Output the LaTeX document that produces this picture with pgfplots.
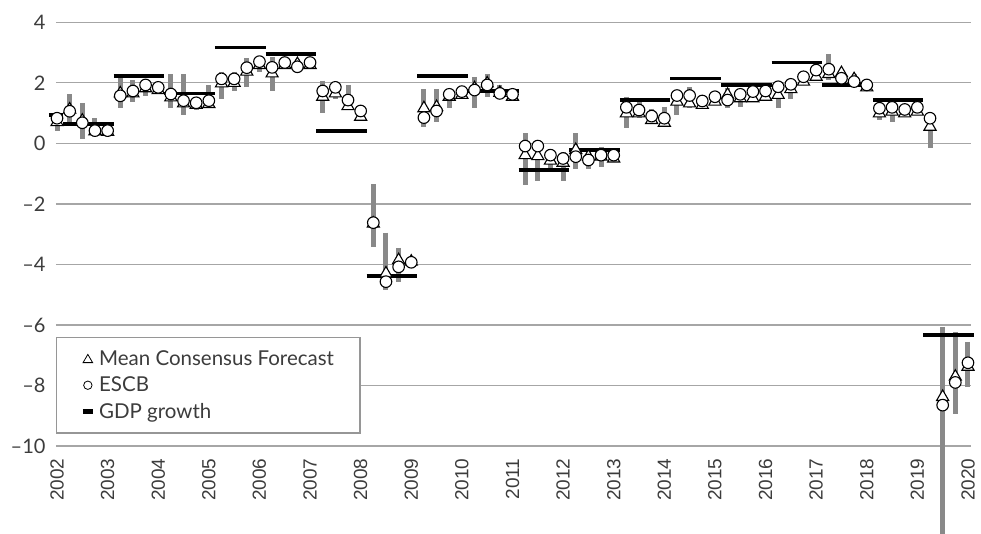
\documentclass[border=0pt]{standalone}
\usepackage{pgfplots}
\pgfplotsset{compat=1.18}
\usepackage{pgfplotstable}
\usepackage{fontspec}
\setmainfont{Lato}
\newfontfamily\xfont{Liberation Sans}
\definecolor{barGrey}{RGB}{137,137,137}
\definecolor{gridGrey}{RGB}{166,166,166}
\definecolor{legGrey}{RGB}{150,150,150}
\definecolor{txt}{RGB}{60,60,60}

\pgfplotstableread{
x tri circ lo hi
2002.00 0.70 0.83 0.42 1.00
2002.25 1.12 1.06 0.66 1.62
2002.50 0.75 0.68 0.13 1.34
2002.75 0.40 0.42 0.33 0.83
2003.00 0.38 0.42 0.35 0.50
2003.25 1.65 1.57 1.16 2.20
2003.50 1.65 1.73 1.38 2.10
2003.75 1.82 1.93 1.55 2.10
2004.00 1.76 1.85 1.70 1.95
2004.25 1.52 1.63 1.16 2.29
2004.50 1.32 1.41 0.94 2.29
2004.75 1.27 1.34 1.10 1.50
2005.00 1.30 1.41 1.16 1.93
2005.25 1.98 2.13 1.45 2.37
2005.50 2.00 2.13 1.74 2.37
2005.75 2.37 2.50 1.87 2.81
2006.00 2.59 2.70 2.37 2.86
2006.25 2.31 2.51 1.74 2.86
2006.50 2.59 2.67 2.45 2.80
2006.75 2.62 2.53 2.45 2.80
2007.00 2.59 2.67 2.50 2.75
2007.25 1.54 1.73 0.99 2.07
2007.50 1.65 1.85 1.45 2.00
2007.75 1.23 1.43 1.10 1.93
2008.00 0.88 1.07 0.80 1.20
2008.25 -2.65 -2.62 -3.42 -1.35
2008.50 -4.30 -4.57 -4.85 -2.95
2008.75 -3.86 -4.08 -4.57 -3.45
2009.00 -3.91 -3.93 -4.00 -3.80
2009.25 1.16 0.85 0.55 1.79
2009.50 1.20 1.07 0.72 1.79
2009.75 1.54 1.62 1.16 1.76
2010.00 1.60 1.71 1.50 1.80
2010.25 1.82 1.76 1.16 2.20
2010.50 1.98 1.93 1.52 2.29
2010.75 1.67 1.65 1.45 1.93
2011.00 1.54 1.62 1.45 1.75
2011.25 -0.39 -0.09 -1.38 0.33
2011.50 -0.42 -0.09 -1.23 0.05
2011.75 -0.57 -0.39 -0.80 -0.20
2012.00 -0.64 -0.50 -1.23 -0.30
2012.25 -0.22 -0.44 -0.86 0.33
2012.50 -0.44 -0.55 -0.85 -0.30
2012.75 -0.44 -0.39 -0.77 -0.11
2013.00 -0.50 -0.39 -0.55 -0.30
2013.25 0.99 1.19 0.50 1.54
2013.50 0.99 1.10 0.83 1.38
2013.75 0.77 0.90 0.65 1.15
2014.00 0.68 0.83 0.61 1.21
2014.25 1.38 1.58 0.94 1.60
2014.50 1.32 1.58 1.16 1.85
2014.75 1.27 1.40 1.20 1.50
2015.00 1.38 1.54 1.30 1.60
2015.25 1.60 1.43 1.16 1.82
2015.50 1.49 1.62 1.20 1.70
2015.75 1.49 1.71 1.40 1.75
2016.00 1.54 1.73 1.45 1.80
2016.25 1.60 1.87 1.16 1.90
2016.50 1.79 1.95 1.45 2.00
2016.75 2.04 2.20 1.95 2.25
2017.00 2.20 2.42 2.10 2.45
2017.25 2.29 2.45 2.09 2.94
2017.50 2.32 2.15 2.05 2.40
2017.75 2.12 2.04 1.95 2.30
2018.00 1.85 1.93 1.80 2.00
2018.25 0.99 1.16 0.77 1.43
2018.50 1.05 1.19 0.72 1.32
2018.75 0.99 1.12 0.95 1.20
2019.00 1.05 1.19 1.00 1.25
2019.25 0.55 0.83 -0.17 0.60
2019.50 -8.38 -8.65 -13.00 -6.06
2019.75 -7.71 -7.90 -8.93 -6.23
2020.00 -7.38 -7.25 -8.05 -6.56
}\fc

\pgfplotstableread{
x g
2001.84 0.94
2002.12 0.94
2002.12 nan
2002.12 0.64
2003.12 0.64
2003.12 nan
2003.12 2.23
2004.12 2.23
2004.12 nan
2004.12 1.65
2005.12 1.65
2005.12 nan
2005.12 3.16
2006.12 3.16
2006.12 nan
2006.12 2.95
2007.12 2.95
2007.12 nan
2007.12 0.41
2008.12 0.41
2008.12 nan
2008.12 -4.38
2009.12 -4.38
2009.12 nan
2009.12 2.23
2010.12 2.23
2010.12 nan
2010.12 1.73
2011.12 1.73
2011.12 nan
2011.12 -0.88
2012.12 -0.88
2012.12 nan
2012.12 -0.22
2013.12 -0.22
2013.12 nan
2013.12 1.43
2014.12 1.43
2014.12 nan
2014.12 2.15
2015.12 2.15
2015.12 nan
2015.12 1.93
2016.12 1.93
2016.12 nan
2016.12 2.67
2017.12 2.67
2017.12 nan
2017.12 1.93
2018.12 1.93
2018.12 nan
2018.12 1.43
2019.12 1.43
2019.12 nan
2019.12 -6.34
2020.12 -6.34
}\gdp

\begin{document}
\begin{tikzpicture}
\path[use as bounding box] (-56pt,-88pt) rectangle (925pt,446pt);
\begin{axis}[
  at={(0pt,0pt)}, anchor=south west,
  scale only axis, width=915pt, height=423.7pt,
  xmin=2001.98, xmax=2020.06,
  ymin=-10, ymax=4,
  ytick={-10,-8,-6,-4,-2,0,2,4},
  yticklabels={–10,–8,–6,–4,–2,0,2,4},
  xtick={2002,2003,2004,2005,2006,2007,2008,2009,2010,2011,2012,2013,2014,2015,2016,2017,2018,2019,2020},
  xticklabels={2002,2003,2004,2005,2006,2007,2008,2009,2010,2011,2012,2013,2014,2015,2016,2017,2018,2019,2020},
  axis line style={draw=none},
  major tick length=0pt,
  ymajorgrids,
  grid style={draw=gridGrey, line width=1.3pt},
  clip=false,
  unbounded coords=jump,
  yticklabel style={font=\fontsize{20}{20}\selectfont, text=txt},
  yticklabel shift=7pt,
  xticklabel style={font=\xfont\fontsize{19}{19}\selectfont, text=txt, rotate=90, anchor=east},
  xticklabel shift=9pt,
  legend style={at={(0,0.257)}, anchor=north west, draw=legGrey, line width=1.2pt, fill=white,
    font=\fontsize{20.5}{24}\selectfont, text=txt, inner xsep=24pt, inner ysep=11pt, row sep=6pt,
    column sep=2pt, nodes={inner sep=2pt}},
  legend cell align=left,
]
\addplot[draw=none, mark=none, forget plot,
  error bars/.cd, y dir=both, y explicit, error mark=none,
  error bar style={draw=barGrey, line width=5pt}]
  table[x=x, y=hi, y error plus expr=0, y error minus expr=\thisrow{hi}-\thisrow{lo}] {\fc};

\addplot[only marks, mark=triangle*, mark size=7pt,
  mark options={fill=white, draw=black, line width=1.1pt},
  legend image code/.code={\path[draw=none, fill=none] (0pt,-4pt) rectangle (10pt,4pt);
    \draw[mark=triangle*, mark size=5.5pt, mark options={fill=white, draw=black, line width=0.8pt}] plot coordinates {(5pt,-1pt)};}]
  table[x=x, y=tri] {\fc};
\addlegendentry{Mean Consensus Forecast\hspace{6pt}}

\addplot[only marks, mark=*, mark size=5.8pt,
  mark options={fill=white, draw=black, line width=1.1pt},
  legend image code/.code={\path[draw=none, fill=none] (0pt,-4pt) rectangle (10pt,4pt);
    \draw[mark=*, mark size=4.2pt, mark options={fill=white, draw=black, line width=0.8pt}] plot coordinates {(5pt,0pt)};}]
  table[x=x, y=circ] {\fc};
\addlegendentry{ESCB}

\addplot[black, line width=3.5pt, mark=none,
  legend image code/.code={\path[draw=none, fill=none] (0pt,-4pt) rectangle (10pt,4pt);
    \draw[black, line width=4.5pt] (0pt,0pt) -- (10pt,0pt);}]
  table[x=x, y=g] {\gdp};
\addlegendentry{GDP growth}
\end{axis}
\end{tikzpicture}
\end{document}
